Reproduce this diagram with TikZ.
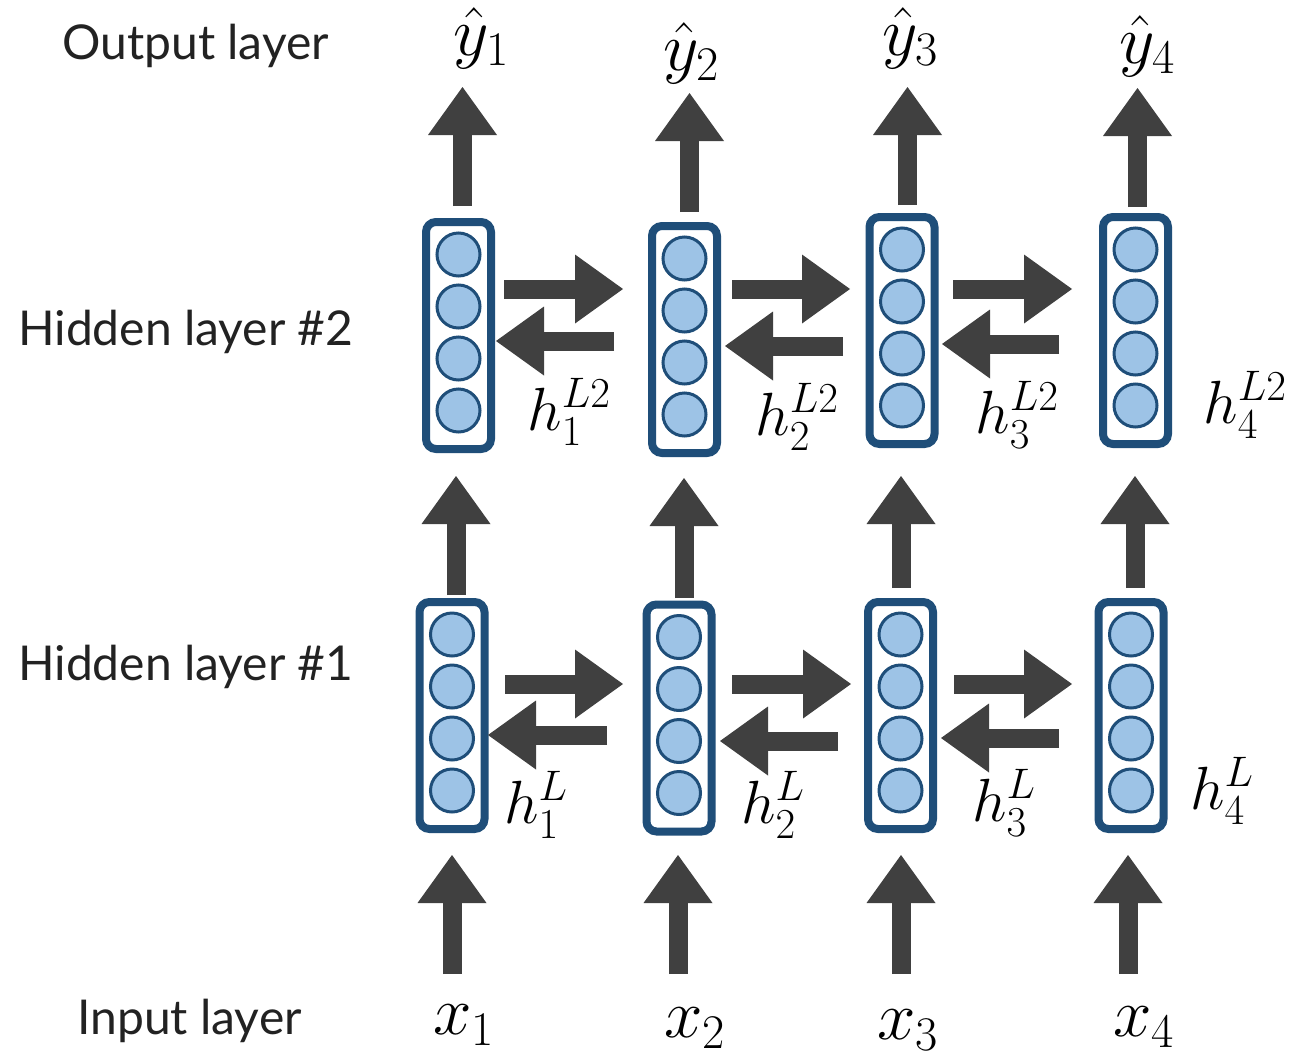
\RequirePackage{fix-cm}
\documentclass[tikz,border=0pt]{standalone}
\usepackage[no-math]{fontspec}
\newfontfamily\labfont{Lato}
\usetikzlibrary{arrows.meta,calc}
\definecolor{boxblue}{RGB}{31,78,121}
\definecolor{cellfill}{RGB}{157,195,230}
\definecolor{arrowgray}{RGB}{64,64,64}
\definecolor{txt}{RGB}{34,34,34}
\begin{document}
\begin{tikzpicture}[x=1pt,y=-1pt,
  layerbox/.style={draw=boxblue, line width=8pt, rounded corners=10pt, minimum width=65pt, minimum height=227pt, inner sep=0pt, fill=white},
  cell/.style={circle, draw=boxblue, line width=3pt, fill=cellfill, minimum size=43pt, inner sep=0pt},
  fat/.style={draw=arrowgray, line width=19pt, -{Triangle[width=69pt,length=48pt,line width=0pt,fill=arrowgray]}},
  lab/.style={anchor=base west, inner sep=0pt, text=txt, font=\labfont\fontsize{48}{52}\selectfont},
  ylab/.style={inner sep=0pt, font=\fontsize{69}{72}\selectfont},
  hlab/.style={inner sep=0pt, font=\fontsize{61}{64}\selectfont}]
\fill[white] (0,0) rectangle (1294,1058);
\useasboundingbox (0,0) rectangle (1294,1058);

% boxes
\node[layerbox] (b21) at (458.5,335.5) {};
\node[layerbox] (b22) at (684.5,339.5) {};
\node[layerbox] (b23) at (902,330.5) {};
\node[layerbox] (b24) at (1135.5,330.5) {};
\node[layerbox] (b11) at (452,715.5) {};
\node[layerbox] (b12) at (679,718) {};
\node[layerbox] (b13) at (900.5,715.5) {};
\node[layerbox] (b14) at (1131,715.5) {};

\foreach \b in {b11,b12,b13,b14,b21,b22,b23,b24}{
  \foreach \dy [count=\k] in {-81,-29,23,75}{
    \node[cell] (\b c\k) at ($(\b.center)+(0,\dy)$) {};
  }
}

% side labels
\node[lab] (outl) at (62,59) {Output layer};
\node[lab] (h2l) at (18,345) {Hidden layer \#2};
\node[lab] (h1l) at (18,680) {Hidden layer \#1};
\node[lab] (inl) at (77,1034) {Input layer};

% output labels
\node[ylab] (y1) at (481,38) {$\hat{y}_1$};
\node[ylab] (y2) at (691,53) {$\hat{y}_2$};
\node[ylab] (y3) at (910,38) {$\hat{y}_3$};
\node[ylab] (y4) at (1147,46) {$\hat{y}_4$};
% input labels
\node[ylab] (x1) at (464,1025) {$x_1$};
\node[ylab] (x2) at (695,1028) {$x_2$};
\node[ylab] (x3) at (908,1030) {$x_3$};
\node[ylab] (x4) at (1144,1027) {$x_4$};
% hidden labels
\node[hlab] (hb1) at (569,412) {$h_1^{L2}$};
\node[hlab] (hb2) at (797,417) {$h_2^{L2}$};
\node[hlab] (hb3) at (1017,415) {$h_3^{L2}$};
\node[hlab] (hb4) at (1245,405) {$h_4^{L2}$};
\node[hlab] (ha1) at (536,805) {$h_1^{L}$};
\node[hlab] (ha2) at (773,805) {$h_2^{L}$};
\node[hlab] (ha3) at (1004,803) {$h_3^{L}$};
\node[hlab] (ha4) at (1222,791) {$h_4^{L}$};

% input arrows
\draw[fat] ($(b11.south)+(0,141)$) -- ($(b11.south)+(0,22)$);
\draw[fat] ($(b12.south)+(-1,138.5)$) -- ($(b12.south)+(-1,19.5)$);
\draw[fat] ($(b13.south)+(0.5,141)$) -- ($(b13.south)+(0.5,22)$);
\draw[fat] ($(b14.south)+(-3,141)$) -- ($(b14.south)+(-3,22)$);

% layer 1 to layer 2
\draw[fat] ($(b11.north)+(4,-3)$) -- ($(b11.north)+(4,-122)$);
\draw[fat] ($(b12.north)+(5,-2.5)$) -- ($(b12.north)+(5,-122.5)$);
\draw[fat] ($(b13.north)+(0.5,-10)$) -- ($(b13.north)+(0.5,-122)$);
\draw[fat] ($(b14.north)+(4,-10)$) -- ($(b14.north)+(4,-122)$);

% layer 2 to output
\draw[fat] ($(b21.north)+(4,-12)$) -- ($(b21.north)+(4,-131)$);
\draw[fat] ($(b22.north)+(5,-10)$) -- ($(b22.north)+(5,-129)$);
\draw[fat] ($(b23.north)+(5.5,-8)$) -- ($(b23.north)+(5.5,-126)$);
\draw[fat] ($(b24.north)+(2,-6)$) -- ($(b24.north)+(2,-125)$);

% layer 2 horizontal
\draw[fat] ($(b21.east)+(9,-46.5)$) -- ($(b21.east)+(128,-46.5)$);
\draw[fat] ($(b21.east)+(119,5.5)$) -- ($(b21.east)+(1,5.5)$);
\draw[fat] ($(b22.east)+(11,-50.5)$) -- ($(b22.east)+(129,-50.5)$);
\draw[fat] ($(b22.east)+(122,6.5)$) -- ($(b22.east)+(4,6.5)$);
\draw[fat] ($(b23.east)+(14.5,-41.5)$) -- ($(b23.east)+(133.5,-41.5)$);
\draw[fat] ($(b23.east)+(120.5,13.5)$) -- ($(b23.east)+(3.5,13.5)$);

% layer 1 horizontal
\draw[fat] ($(b11.east)+(16.5,-31.5)$) -- ($(b11.east)+(134.5,-31.5)$);
\draw[fat] ($(b11.east)+(118.5,19.5)$) -- ($(b11.east)+(-0.5,19.5)$);
\draw[fat] ($(b12.east)+(16.5,-34)$) -- ($(b12.east)+(135.5,-34)$);
\draw[fat] ($(b12.east)+(122.5,23)$) -- ($(b12.east)+(4.5,23)$);
\draw[fat] ($(b13.east)+(17,-31.5)$) -- ($(b13.east)+(135,-31.5)$);
\draw[fat] ($(b13.east)+(122,22.5)$) -- ($(b13.east)+(4,22.5)$);
\end{tikzpicture}
\end{document}
